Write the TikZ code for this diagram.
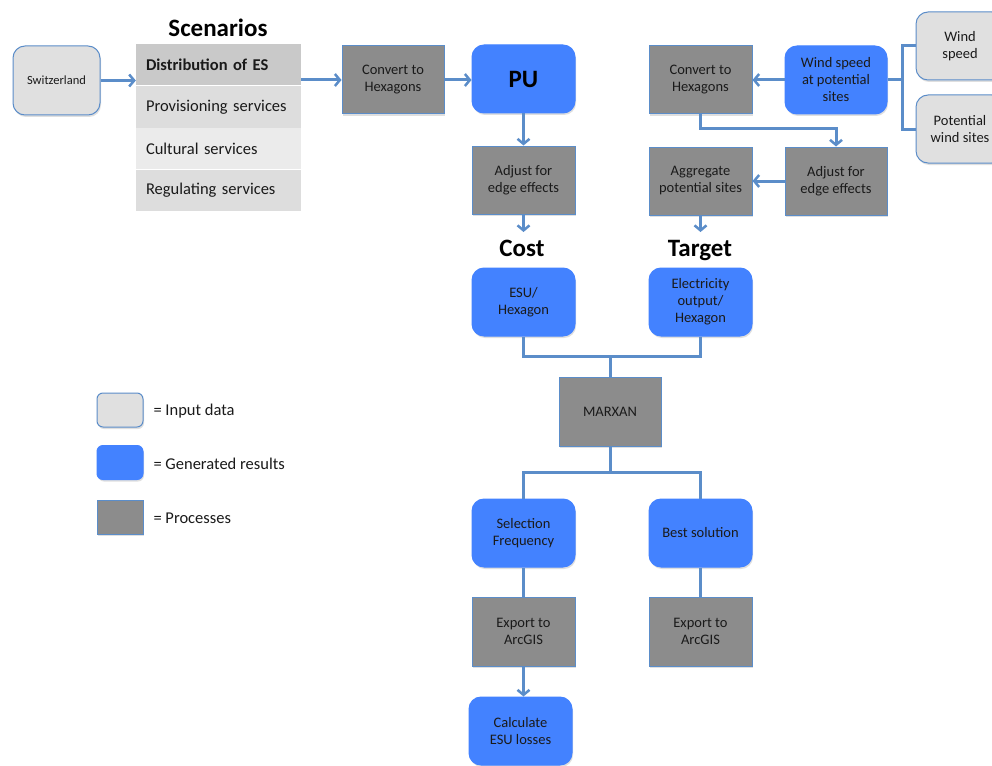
\documentclass[tikz,border=0pt]{standalone}
\usepackage{fontspec}
\setmainfont{Carlito}
\usetikzlibrary{arrows.meta,shadows}
\definecolor{lineblue}{HTML}{5B8DC9}
\definecolor{resblue}{HTML}{4382FF}
\definecolor{procgray}{HTML}{8C8C8C}
\definecolor{inputgray}{HTML}{E0E0E0}
\definecolor{txt}{HTML}{1A1A1A}
\definecolor{rowa}{HTML}{C9C9C9}
\definecolor{rowb}{HTML}{DDDDDD}
\definecolor{rowc}{HTML}{EBEBEB}
\begin{document}
\begin{tikzpicture}[x=1pt,y=-1pt,
  base/.style={line width=1pt, align=center, text=txt, font=\fontsize{14.5}{17}\selectfont,
    inner sep=2pt, minimum width=103, minimum height=68,
    drop shadow={opacity=0.25,shadow xshift=1pt,shadow yshift=-2pt}},
  inbox/.style={base, draw=lineblue, fill=inputgray, rounded corners=12pt},
  resbox/.style={base, draw=resblue, fill=resblue, rounded corners=12pt},
  procbox/.style={base, draw=lineblue, fill=procgray},
  row/.style={minimum width=165, minimum height=41, text width=145, inner sep=10pt, align=left,
    text=txt, font=\fontsize{16.5}{19}\selectfont},
  heading/.style={text=black, font=\bfseries\fontsize{25}{29}\selectfont},
  conn/.style={draw=lineblue, line width=3pt},
  arr/.style={conn, -{Straight Barb[length=5pt,width=12pt,line width=2.5pt]}},
  legtext/.style={anchor=west, text=txt, font=\fontsize{16.5}{19}\selectfont}
]
\clip (0,0) rectangle (992,765);
\fill[white] (0,0) rectangle (992,765);

% Scenarios table
\node[heading] (scen) at (218,28) {Scenarios};
\node[row, fill=rowa] (r1) at (218.5,65) {\bfseries Distribution of ES};
\node[row, fill=rowb] (r2) at (218.5,107) {Provisioning services};
\node[row, fill=rowc] (r3) at (218.5,148.5) {Cultural services};
\node[row, fill=rowb] (r4) at (218.5,190) {Regulating services};

% Left chain
\node[inbox, minimum width=87, minimum height=69, font=\fontsize{12.5}{15}\selectfont] (sw) at (56.5,80.5) {Switzerland};
\node[procbox, minimum width=102] (conv1) at (393,80) {Convert to\\Hexagons};
\node[resbox, font=\bfseries\fontsize{25}{29}\selectfont, text=black] (pu) at (523.5,79) {PU};
\node[procbox] (adj1) at (523.5,180) {Adjust for\\edge effects};
\node[heading, anchor=base] (cost) at (522,256) {Cost};
\node[resbox] (esu) at (523.5,302) {ESU/\\Hexagon};

% Right chain
\node[procbox] (conv2) at (700.5,80) {Convert to\\Hexagons};
\node[resbox, minimum width=102] (ws) at (836,80) {Wind speed\\at potential\\sites};
\node[inbox, minimum width=88] (wsin) at (960,46) {Wind\\speed};
\node[inbox, minimum width=88] (pot) at (960,129) {Potential\\wind sites};
\node[procbox, minimum width=102] (adj2) at (836,181) {Adjust for\\edge effects};
\node[procbox] (agg) at (700.5,181) {Aggregate\\potential sites};
\node[heading, anchor=base] (target) at (700,256) {Target};
\node[resbox] (elec) at (700.5,302) {Electricity\\output/\\Hexagon};

% Middle / bottom
\node[procbox, minimum width=102, minimum height=69] (marx) at (610,411.5) {MARXAN};
\node[resbox] (sel) at (523.5,533) {Selection\\Frequency};
\node[resbox] (best) at (700.5,533) {Best solution};
\node[procbox, minimum height=69] (exp1) at (523.5,631.5) {Export to\\ArcGIS};
\node[procbox, minimum height=69] (exp2) at (700.5,631.5) {Export to\\ArcGIS};
\node[resbox] (calc) at (520.5,731) {Calculate\\ESU losses};

% Legend
\node[inbox, minimum width=46, minimum height=34, rounded corners=6pt] (lg1) at (120,410) {};
\node[resbox, minimum width=46, minimum height=34, rounded corners=6pt] (lg2) at (120,462.5) {};
\node[procbox, minimum width=46, minimum height=34] (lg3) at (120,517) {};
\node[legtext] (lt1) at (150,411) {= Input data};
\node[legtext] (lt2) at (150,464) {= Generated results};
\node[legtext] (lt3) at (150,518) {= Processes};

% Connectors
\draw[arr] (sw.east) -- (sw.east -| r1.west);
\draw[arr] (r1.east |- conv1.west) -- (conv1.west);
\draw[arr] (conv1.east) -- (conv1.east -| pu.west);
\draw[arr] (pu.south) -- (pu.south |- adj1.north);
\coordinate (costarr) at (523.5,232);
\draw[arr] (adj1.south) -- (costarr);

\draw[arr] (ws.west) -- (ws.west -| conv2.east);
\draw[conn] (ws.east) -- ++(15,0) coordinate (jn);
\draw[conn] (wsin.west) -| (jn) |- (pot.west);
\draw[arr] (conv2.south) -- ++(0,14) -| (adj2.north);
\draw[arr] (adj2.west) -- (adj2.west -| agg.east);
\coordinate (tgtarr) at (700.5,232);
\draw[arr] (agg.south) -- (tgtarr);

\coordinate (j1) at (610,356);
\draw[conn] (esu.south) |- (j1) -| (elec.south);
\draw[conn] (j1) -- (marx.north);
\coordinate (j2) at (610,472);
\draw[conn] (marx.south) -- (j2);
\draw[conn] (sel.north) |- (j2) -| (best.north);
\draw[conn] (sel.south) -- (exp1.north);
\draw[conn] (best.south) -- (exp2.north);
\draw[arr] (exp1.south) -- (exp1.south |- calc.north);
\end{tikzpicture}
\end{document}
